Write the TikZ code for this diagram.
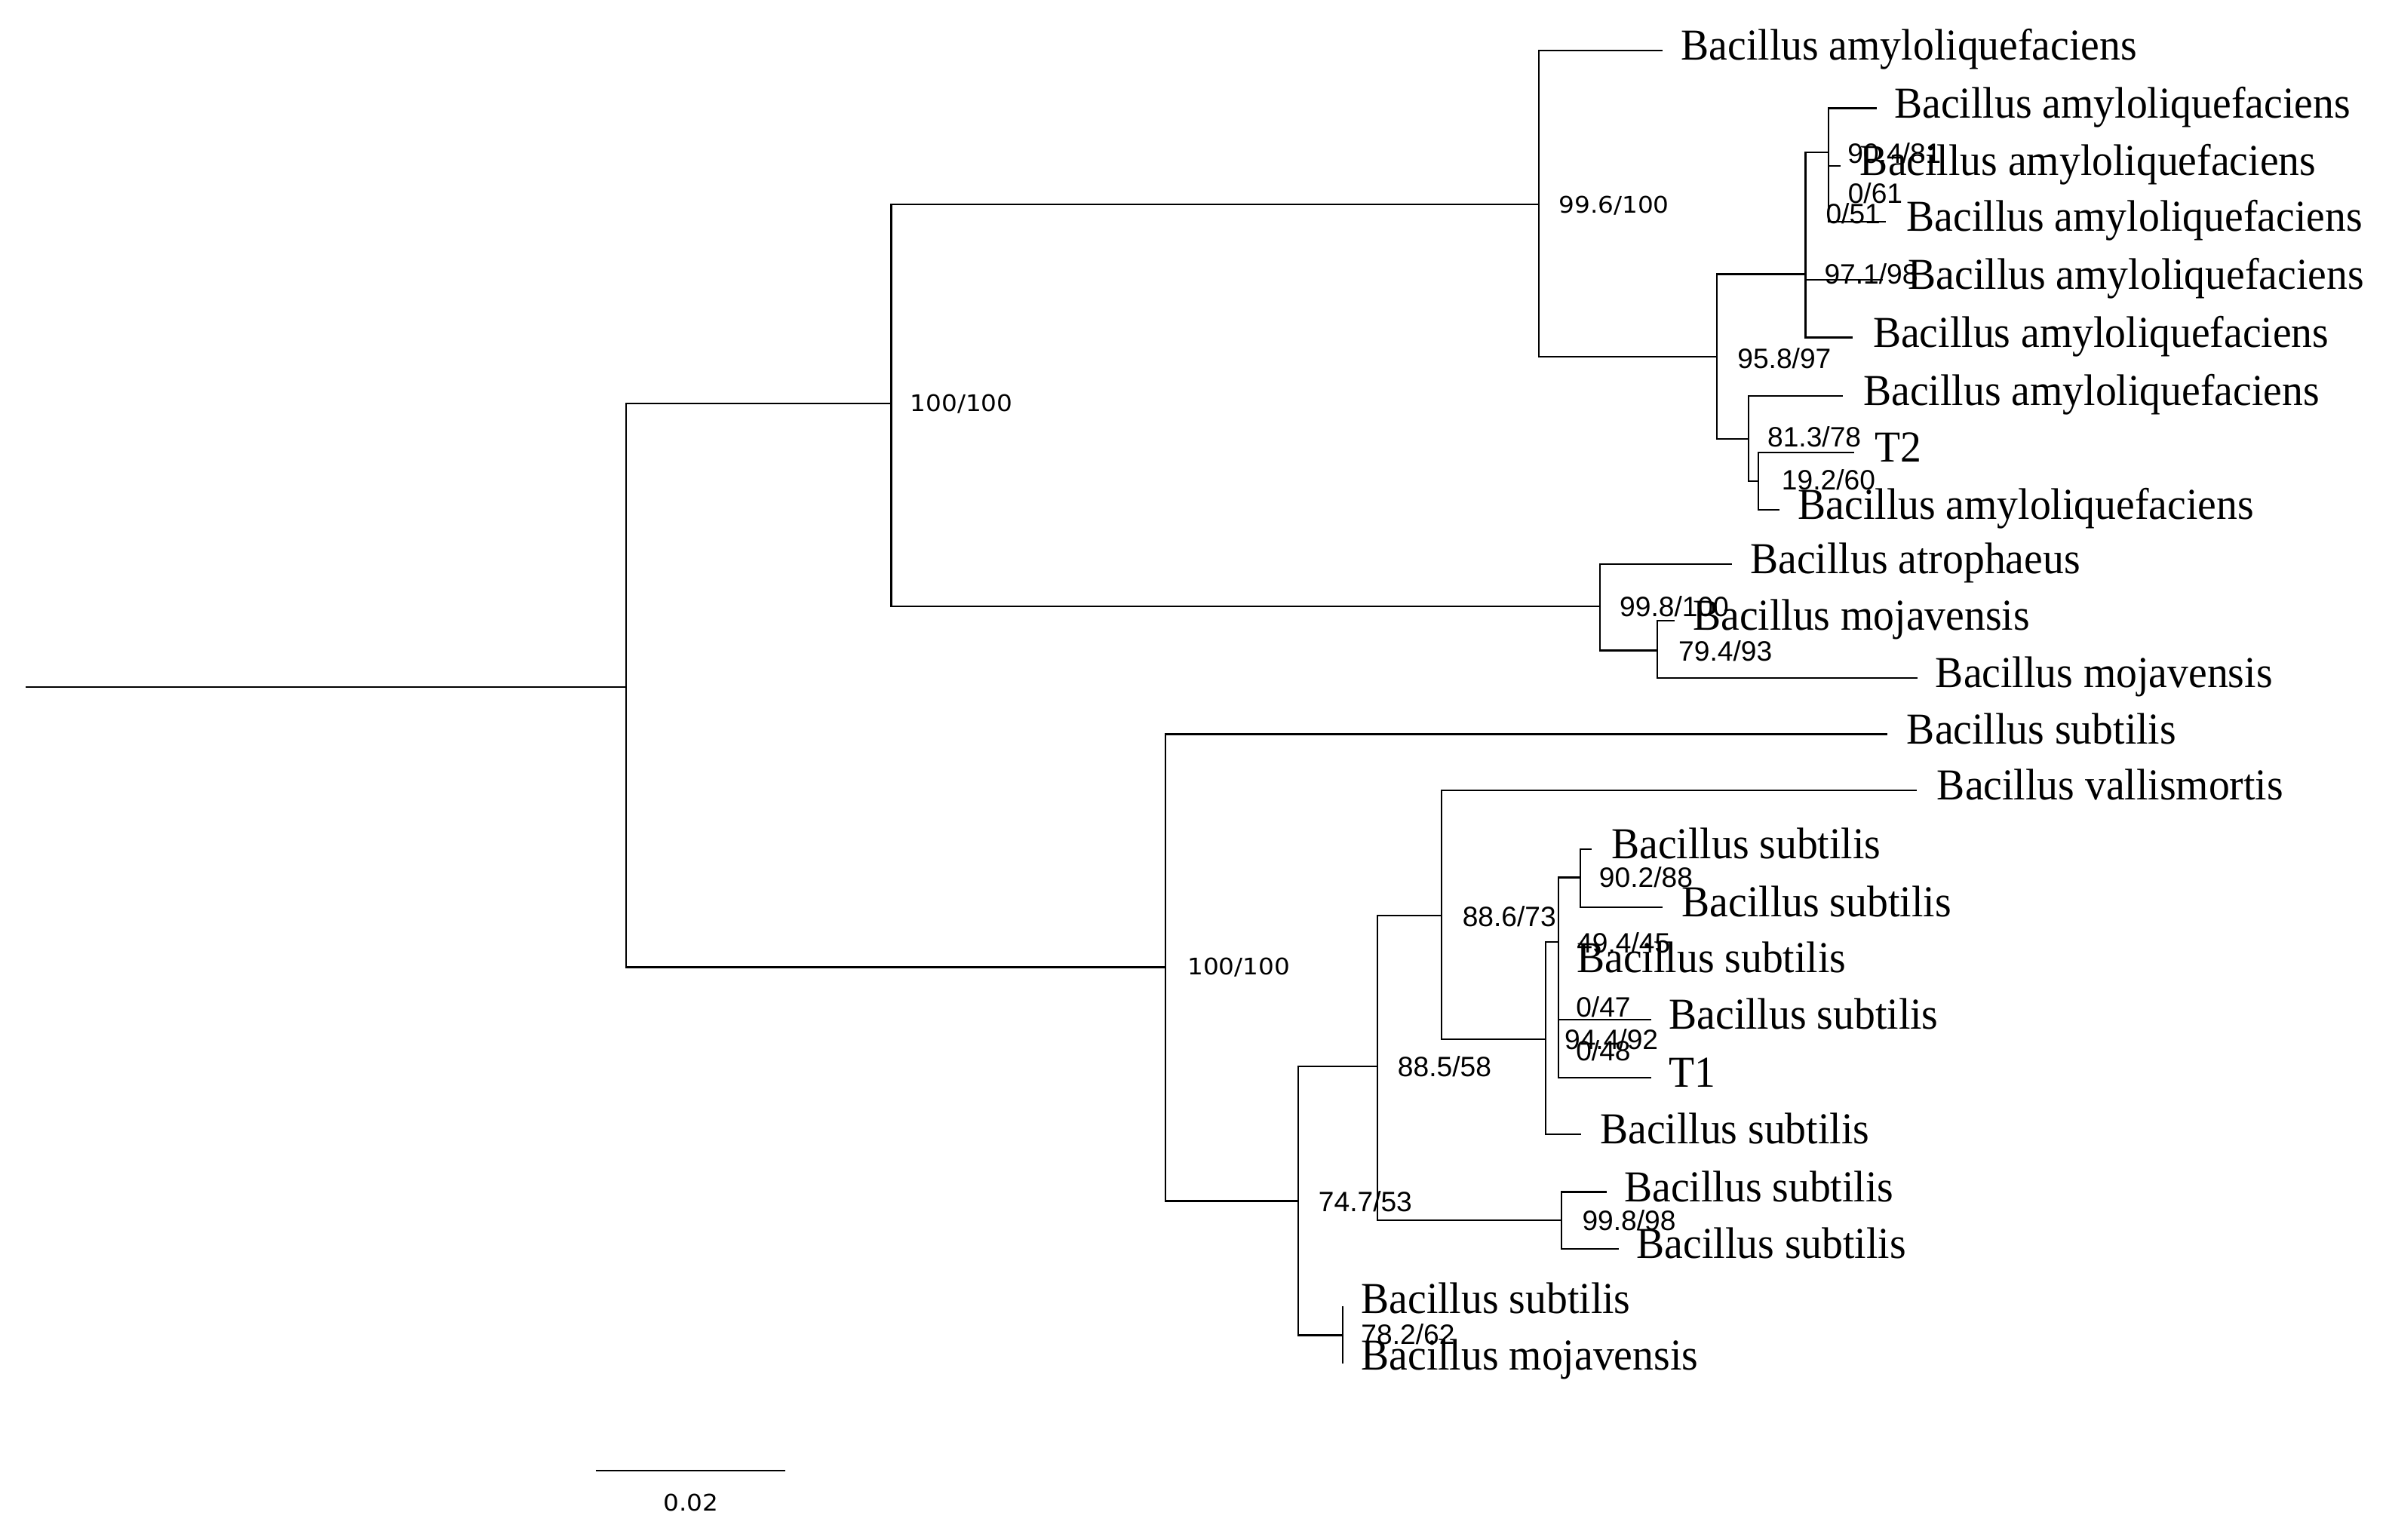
\documentclass[tikz,border=0pt]{standalone}
\usepackage{fontspec}
\setmainfont{Liberation Serif}
\newfontfamily\leaffont[FakeStretch=0.95]{Liberation Serif}
\newfontfamily\supfont{Liberation Sans}
\newfontfamily\widefont[FakeStretch=1.08]{DejaVu Sans}
\usetikzlibrary{calc}
\begin{document}
\begin{tikzpicture}[x=0.5pt,y=-0.5pt,
  branch/.style={line width=0.55pt},
  leaf/.style={anchor=base west, inner sep=0pt, font=\leaffont\fontsize{14.5}{14.5}\selectfont},
  sup/.style={anchor=west, inner sep=0pt, font=\supfont\fontsize{9.2}{9.2}\selectfont},
  supw/.style={anchor=west, inner sep=0pt, font=\widefont\fontsize{7.5}{7.5}\selectfont}]
\fill[white] (0,0) rectangle (1568,1011);
\useasboundingbox (0,0) rectangle (1568,1011);
% internal nodes
\coordinate (root) at (17,451);
\coordinate (R) at (411,451);
\coordinate (P) at (585,265);
\coordinate (A) at (1010,134);
\coordinate (H) at (1050,398);
\coordinate (B) at (1127,234);
\coordinate (C) at (1185,180);
\coordinate (D) at (1200,100);
\coordinate (F) at (1147.5,288);
\coordinate (G) at (1154.2,316);
\coordinate (I) at (1087.8,427);
\coordinate (Q) at (765,635);
\coordinate (Sn) at (852,788.5);
\coordinate (U) at (904,700);
\coordinate (V) at (881.3,876.6);
\coordinate (W) at (946,601);
\coordinate (X) at (1024.7,801);
\coordinate (Y) at (1014.3,682.3);
\coordinate (Z) at (1022.7,618.5);
\coordinate (Zo) at (1037.3,576);
% leaf tips
\coordinate (t1) at (1091,33);
\coordinate (t2) at (1231.6,71);
\coordinate (t3) at (1207.9,109);
\coordinate (t4) at (1237.5,145.5);
\coordinate (t5) at (1236,183.5);
\coordinate (t6) at (1216,221.6);
\coordinate (t7) at (1209.4,259.8);
\coordinate (tT2) at (1216.8,297);
\coordinate (t9) at (1167.9,334.7);
\coordinate (tatro) at (1136.5,370.4);
\coordinate (tmoja) at (1099.1,407.6);
\coordinate (tmojb) at (1258.4,445.2);
\coordinate (tsub) at (1238.6,482);
\coordinate (tvall) at (1258,519);
\coordinate (tsa) at (1044.9,557.4);
\coordinate (tsb) at (1091.4,595.7);
\coordinate (tsc) at (1022.7,632);
\coordinate (tsd) at (1084,669.5);
\coordinate (tT1) at (1084,707.6);
\coordinate (tse) at (1037.8,744.6);
\coordinate (tsf) at (1054.6,782.5);
\coordinate (tsg) at (1062.5,819.7);
\coordinate (tsh) at (881.3,857.6);
\coordinate (tmojc) at (881.3,895.2);
% branches
\draw[branch] (root) -- (R);
\draw[branch] (R) |- (P) (R) |- (Q);
\draw[branch] (P) |- (A) (P) |- (H);
\draw[branch] (A) |- (t1) (A) |- (B);
\draw[branch] (B) |- (C) (B) |- (F);
\draw[branch] (C) |- (D) (C) |- (t5) (C) |- (t6);
\draw[branch] (D) |- (t2) (D) |- (t3) (D) |- (t4);
\draw[branch] (F) |- (t7) (F) |- (G);
\draw[branch] (G) |- (tT2) (G) |- (t9);
\draw[branch] (H) |- (tatro) (H) |- (I);
\draw[branch] (I) |- (tmoja) (I) |- (tmojb);
\draw[branch] (Q) |- (tsub) (Q) |- (Sn);
\draw[branch] (Sn) |- (U) (Sn) |- (V);
\draw[branch] (U) |- (W) (U) |- (X);
\draw[branch] (W) |- (tvall) (W) |- (Y);
\draw[branch] (Y) |- (Z) (Y) |- (tse);
\draw[branch] (Z) |- (Zo) (Z) |- (tsc) (Z) |- (tsd) (Z) |- (tT1);
\draw[branch] (Zo) |- (tsa) (Zo) |- (tsb);
\draw[branch] (X) |- (tsf) (X) |- (tsg);
\draw[branch] (V) |- (tsh) (V) |- (tmojc);
% support values
\node[supw] (s1) at (597,265) {100/100};
\node[supw] (s2) at (1022.7,134.8) {99.6/100};
\node[sup] (s3) at (1140,235.3) {95.8/97};
\node[sup] (s4) at (1197,180) {97.1/98};
\node[sup] (s5) at (1212.3,100.5) {90.4/81};
\node[sup] (s6) at (1212.5,127) {0/61};
\node[sup] (s7) at (1198,140.4) {0/51};
\node[sup] (s8) at (1159.7,286.7) {81.3/78};
\node[sup] (s9) at (1169,314.8) {19.2/60};
\node[sup] (s10) at (1062.7,398) {99.8/100};
\node[sup] (s11) at (1101.3,427.4) {79.4/93};
\node[supw] (s12) at (779,635) {100/100};
\node[sup] (s13) at (865,788.8) {74.7/53};
\node[sup] (s14) at (917,700) {88.5/58};
\node[sup] (s15) at (959.5,601.5) {88.6/73};
\node[sup] (s16) at (1049.2,576) {90.2/88};
\node[sup] (s17) at (1034.5,618.8) {49.4/45};
\node[sup] (s18) at (1034,661) {0/47};
\node[sup] (s19) at (1026.5,682.3) {94.4/92};
\node[sup] (s20) at (1034,689.8) {0/48};
\node[sup] (s21) at (1038.1,801.2) {99.8/98};
\node[sup] (s22) at (893,876) {78.2/62};
% leaf labels
\node[leaf] (l1) at (1103,39.3) {Bacillus amyloliquefaciens};
\node[leaf] (l2) at (1243,77.3) {Bacillus amyloliquefaciens};
\node[leaf] (l3) at (1220.5,115.3) {Bacillus amyloliquefaciens};
\node[leaf] (l4) at (1251,151.8) {Bacillus amyloliquefaciens};
\node[leaf] (l5) at (1252,189.8) {Bacillus amyloliquefaciens};
\node[leaf] (l6) at (1229,227.9) {Bacillus amyloliquefaciens};
\node[leaf] (l7) at (1222.7,266.1) {Bacillus amyloliquefaciens};
\node[leaf] (lT2) at (1230,303.3) {T2};
\node[leaf] (l9) at (1179.7,341) {Bacillus amyloliquefaciens};
\node[leaf] (latro) at (1148.4,376.7) {Bacillus atrophaeus};
\node[leaf] (lmoja) at (1110.7,413.5) {Bacillus mojavensis};
\node[leaf] (lmojb) at (1270,451.5) {Bacillus mojavensis};
\node[leaf] (lsub) at (1251.2,488.3) {Bacillus subtilis};
\node[leaf] (lvall) at (1271,525.3) {Bacillus vallismortis};
\node[leaf] (lsa) at (1057.3,563.7) {Bacillus subtilis};
\node[leaf] (lsb) at (1103.5,602) {Bacillus subtilis};
\node[leaf] (lsc) at (1034.5,638.3) {Bacillus subtilis};
\node[leaf] (lsd) at (1095,675.8) {Bacillus subtilis};
\node[leaf] (lT1) at (1095,713.9) {T1};
\node[leaf] (lse) at (1049.8,750.9) {Bacillus subtilis};
\node[leaf] (lsf) at (1065.7,788.8) {Bacillus subtilis};
\node[leaf] (lsg) at (1073.9,826) {Bacillus subtilis};
\node[leaf] (lsh) at (893,862) {Bacillus subtilis};
\node[leaf] (lmojc) at (893,899.2) {Bacillus mojavensis};
% scale bar
\coordinate (sb1) at (391,965.3);
\coordinate (sb2) at (515.2,965.3);
\draw[branch] (sb1) -- (sb2);
\node[supw, anchor=center] (sbl) at (453.5,986.7) {0.02};
\end{tikzpicture}
\end{document}
